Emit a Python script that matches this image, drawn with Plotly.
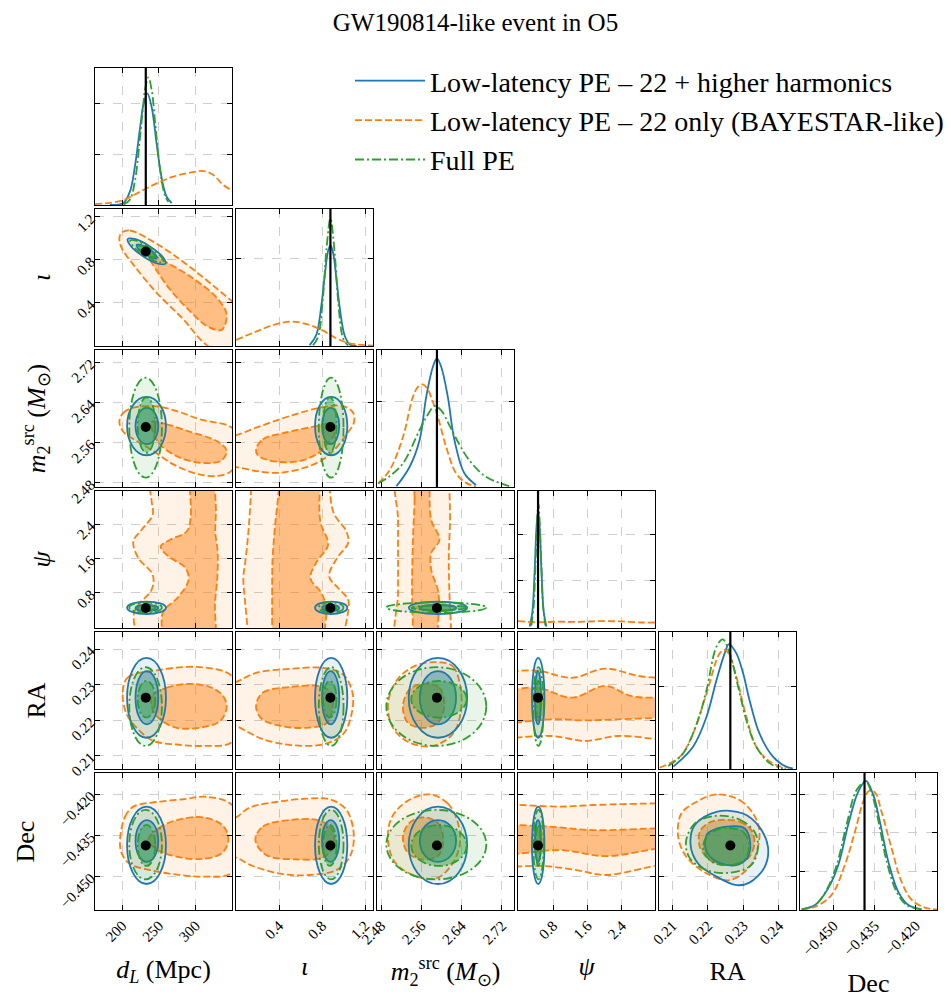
import plotly.graph_objects as go

W, H = 951, 1006
FONT = "Liberation Serif"

# ---------------- parameters / axes ----------------
PARAMS = ["dL", "iota", "m2", "psi", "RA", "Dec"]
LABELS = ["<i>d</i><sub><i>L</i></sub> (Mpc)", "<i>ι</i>",
          "<i>m</i><sub>2</sub><sup>src</sup> (<i>M</i><sub>⊙</sub>)", "<i>ψ</i>", "RA", "Dec"]
RANGES = [[162.8, 349.5], [0.0, 1.274], [2.472, 2.744], [-0.015, 3.17], [0.2062, 0.2448], [-0.4623, -0.4122]]
TICKVALS = [[200, 250, 300], [0.4, 0.8, 1.2], [2.48, 2.56, 2.64, 2.72], [0.8, 1.6, 2.4],
            [0.21, 0.22, 0.23, 0.24], [-0.450, -0.435, -0.420]]
TICKTEXT = [["200", "250", "300"], ["0.4", "0.8", "1.2"], ["2.48", "2.56", "2.64", "2.72"],
            ["0.8", "1.6", "2.4"], ["0.21", "0.22", "0.23", "0.24"],
            ["\u22120.450", "\u22120.435", "\u22120.420"]]
TRUTH = [232.0, 0.878, 2.591, 0.451, 0.2263, -0.4387]
DIAG_GRID = [[0.37, 0.742], [0.64], [0.623], [0.345, 0.686], [0.603], [0.28, 0.567, 0.844]]

SERIES = ["Low-latency PE – 22 + higher harmonics",
          "Low-latency PE – 22 only (BAYESTAR-like)",
          "Full PE"]

# ---------------- 1D marginals (height as fraction of panel) ----------------
HH_DL_X = [183.2, 201.4, 210.5, 217.3, 224.1, 228.7, 234.1, 240.0, 246.8, 251.4, 255.9, 260.4, 267.3]
HH_DL_Y = [0.0, 0.015, 0.10, 0.285, 0.56, 0.73, 0.815, 0.715, 0.446, 0.268, 0.139, 0.061, 0.0135]
FULL_DL_X = [201.4, 210.5, 217.3, 224.1, 228.7, 230.9, 235.5, 240.0, 244.5, 249.1, 253.6, 258.2, 262.7]
FULL_DL_Y = [0.003, 0.041, 0.178, 0.49, 0.74, 0.84, 0.932, 0.84, 0.617, 0.368, 0.178, 0.07, 0.023]
OR_DL_X = [162.8, 183.2, 201.4, 224.1, 246.8, 269.5, 292.2, 310.4, 324.0, 337.6, 349.5, 360.0]
OR_DL_Y = [0.007, 0.015, 0.036, 0.097, 0.158, 0.207, 0.236, 0.248, 0.219, 0.146, 0.105, 0.07]

HH_IOTA_X = [0.6848, 0.7471, 0.7938, 0.825, 0.8562, 0.878, 0.903, 0.934, 0.9652, 1.0119, 1.0586, 1.121]
HH_IOTA_Y = [0.006, 0.082, 0.296, 0.514, 0.693, 0.737, 0.68, 0.49, 0.277, 0.073, 0.011, 0.001]
FULL_IOTA_X = [0.716, 0.7627, 0.8094, 0.8406, 0.878, 0.9185, 0.9496, 0.9963, 1.043]
FULL_IOTA_Y = [0.005, 0.065, 0.36, 0.70, 0.932, 0.67, 0.33, 0.055, 0.004]
OR_IOTA_X = [0.0, 0.1864, 0.3733, 0.529, 0.6848, 0.8094, 0.934, 1.0586, 1.2144, 1.274]
OR_IOTA_Y = [0.044, 0.105, 0.16, 0.178, 0.153, 0.112, 0.056, 0.02, 0.005, 0.003]

HH_M2_X = [2.5105, 2.5369, 2.5566, 2.5698, 2.583, 2.5908, 2.5994, 2.6125, 2.6257, 2.6454, 2.6685]
HH_M2_Y = [0.005, 0.148, 0.343, 0.66, 0.878, 0.939, 0.878, 0.66, 0.343, 0.1, 0.015]
FULL_M2_X = [2.4744, 2.4974, 2.5237, 2.5566, 2.5731, 2.5862, 2.5994, 2.6158, 2.6356, 2.6553, 2.6882, 2.7343]
FULL_M2_Y = [0.027, 0.08, 0.173, 0.416, 0.53, 0.591, 0.56, 0.45, 0.31, 0.195, 0.075, 0.007]
OR_M2_X = [2.4744, 2.4974, 2.5237, 2.5434, 2.5533, 2.5632, 2.5731, 2.583, 2.5928, 2.6092, 2.629, 2.6487, 2.6685]
OR_M2_Y = [0.027, 0.124, 0.367, 0.66, 0.73, 0.749, 0.71, 0.62, 0.513, 0.294, 0.10, 0.03, 0.005]

HH_PSI_X = [0.257, 0.319, 0.374, 0.413, 0.451, 0.49, 0.529, 0.583, 0.645]
HH_PSI_Y = [0.011, 0.117, 0.431, 0.724, 0.861, 0.724, 0.431, 0.117, 0.011]
FULL_PSI_X = [0.296, 0.35, 0.397, 0.459, 0.521, 0.568, 0.622]
FULL_PSI_Y = [0.018, 0.16, 0.515, 0.91, 0.515, 0.16, 0.018]
OR_PSI_X = [-0.015, 0.4, 0.9, 1.4, 1.9, 2.4, 2.9, 3.17]
OR_PSI_Y = [0.05, 0.042, 0.046, 0.045, 0.05, 0.048, 0.04, 0.04]

HH_RA_X = [0.2102, 0.2158, 0.2196, 0.2224, 0.2247, 0.2259, 0.228, 0.2299, 0.2317, 0.2345, 0.2383, 0.242, 0.2439]
HH_RA_Y = [0.017, 0.163, 0.382, 0.65, 0.844, 0.912, 0.844, 0.698, 0.504, 0.26, 0.09, 0.017, 0.005]
FULL_RA_X = [0.2088, 0.213, 0.2172, 0.2196, 0.2224, 0.2242, 0.2261, 0.2285, 0.2308, 0.2336, 0.2374, 0.2411]
FULL_RA_Y = [0.022, 0.114, 0.358, 0.577, 0.893, 0.946, 0.844, 0.6, 0.358, 0.163, 0.041, 0.005]
OR_RA_X = [0.2064, 0.2121, 0.2158, 0.2196, 0.2233, 0.2247, 0.2261, 0.228, 0.2308, 0.2336, 0.2374, 0.242]
OR_RA_Y = [0.01, 0.09, 0.26, 0.552, 0.844, 0.869, 0.83, 0.674, 0.382, 0.163, 0.054, 0.005]

HH_DEC_X = [-0.4617, -0.4568, -0.452, -0.4483, -0.4447, -0.441, -0.4382, -0.4355, -0.4331, -0.43, -0.4264, -0.4227, -0.4178]
HH_DEC_Y = [0.005, 0.036, 0.158, 0.328, 0.62, 0.864, 0.942, 0.84, 0.645, 0.353, 0.134, 0.036, 0.005]
FULL_DEC_X = [-0.4617, -0.4568, -0.4526, -0.4489, -0.4453, -0.4416, -0.4383, -0.4361, -0.4337, -0.4306, -0.427, -0.4233, -0.4178]
FULL_DEC_Y = [0.005, 0.036, 0.146, 0.328, 0.62, 0.876, 0.937, 0.852, 0.657, 0.353, 0.134, 0.036, 0.004]
OR_DEC_X = [-0.4617, -0.4568, -0.4508, -0.4459, -0.4422, -0.4392, -0.4371, -0.4349, -0.4325, -0.4288, -0.4252, -0.4214, -0.4166, -0.4122]
OR_DEC_Y = [0.005, 0.024, 0.109, 0.328, 0.572, 0.79, 0.869, 0.859, 0.718, 0.45, 0.207, 0.073, 0.017, 0.004]

# ---------------- 2D credible-region extents (blue / green, axis-aligned panels) ----------------
HH_90_LO = [206.5, 0.735, 2.535, 0.31, 0.2150, -0.4528]
HH_90_HI = [259.5, 1.035, 2.651, 0.60, 0.2375, -0.4245]
HH_50_LO = [218.0, 0.80, 2.557, 0.38, 0.2188, -0.4447]
HH_50_HI = [249.0, 0.96, 2.629, 0.52, 0.2338, -0.4294]
FULL_90_LO = [209.5, 0.77, 2.4905, 0.34, 0.2127, -0.4511]
FULL_90_HI = [254.0, 1.00, 2.689, 0.58, 0.2349, -0.4257]
FULL_50_LO = [221.0, 0.81, 2.54, 0.40, 0.2207, -0.4462]
FULL_50_HI = [245.0, 0.935, 2.65, 0.51, 0.2310, -0.4312]

# tilted panels, outlines read directly
HH_DL_IOTA_90 = [(259.1, 0.766), (248.4, 0.7665), (228.7, 0.8333), (211.8, 0.928), (207.3, 0.9938),
                 (218.0, 0.9932), (237.6, 0.9263), (254.6, 0.8318)]
HH_DL_IOTA_50 = [(246.9, 0.8194), (241.1, 0.8188), (230.7, 0.8539), (221.8, 0.9044), (219.5, 0.9402),
                 (225.3, 0.9408), (235.6, 0.9057), (244.6, 0.8552)]
FULL_DL_IOTA_90 = [(256.5, 0.7791), (247.4, 0.7831), (230.2, 0.8438), (215.0, 0.9254), (210.8, 0.9805),
                   (219.9, 0.9765), (237.1, 0.9158), (252.3, 0.8342)]
FULL_DL_IOTA_50 = [(244.7, 0.8293), (239.9, 0.8296), (231.2, 0.8592), (223.7, 0.9011), (221.7, 0.9303),
                   (226.5, 0.93), (235.2, 0.8994), (242.7, 0.8586)]
HH_RA_DEC_90 = [(0.2224, -0.4264), (0.2299, -0.4270), (0.2344, -0.4318), (0.2369, -0.4392), (0.2360, -0.4465),
                (0.2317, -0.4523), (0.2280, -0.4532), (0.2224, -0.4501), (0.2172, -0.4453), (0.2151, -0.4386),
                (0.2163, -0.4312)]
HH_RA_DEC_50 = [(0.2252, -0.4318), (0.2303, -0.4324), (0.2319, -0.4379), (0.2310, -0.4434), (0.2280, -0.4459),
                (0.2224, -0.4446), (0.2194, -0.4404), (0.2196, -0.4349), (0.2205, -0.4337)]
FULL_RA_DEC_90 = [(0.2219, -0.4279), (0.2289, -0.4292), (0.2331, -0.4337), (0.2341, -0.4392), (0.2322, -0.4459),
                  (0.2261, -0.4487), (0.2196, -0.4477), (0.2149, -0.4434), (0.2138, -0.4373), (0.2163, -0.4306)]
FULL_RA_DEC_50 = [(0.2242, -0.4324), (0.2299, -0.4337), (0.2316, -0.4386), (0.2303, -0.4440), (0.2261, -0.4459),
                  (0.2210, -0.4446), (0.2186, -0.4398), (0.2200, -0.4349)]

# ---------------- orange (22-only) 2D outlines ----------------
OR_DL_IOTA_90 = [(199.1, 1.055), (210.5, 1.074), (246.8, 0.951), (292.2, 0.735), (349.5, 0.418), (392, 0.187),
                 (355.8, -0.121), (315, 0.008), (283.1, 0.248), (246.8, 0.495), (215, 0.757), (199.1, 0.911), (196, 1.003)]
OR_DL_IOTA_50 = [(235.5, 0.871), (253.6, 0.803), (292.2, 0.649), (328.6, 0.449), (342.2, 0.295), (335.4, 0.15),
                 (314.9, 0.187), (292.2, 0.325), (265, 0.526), (244.5, 0.726), (236.8, 0.818)]
OR_DL_M2_90 = [(196, 2.6016), (201.4, 2.6194), (215, 2.6294), (246.8, 2.632), (274.1, 2.6228), (305.9, 2.6062),
               (349.5, 2.5897), (362.6, 2.5566), (349.5, 2.505), (328.6, 2.4937), (301.3, 2.4984), (269.5, 2.5169),
               (242.3, 2.5434), (219.6, 2.5632), (201.4, 2.5817)]
OR_DL_M2_50 = [(240, 2.6016), (260.4, 2.5963), (292.2, 2.5817), (328.6, 2.5632), (342.2, 2.5447), (335.4, 2.5248),
               (310.4, 2.5195), (278.6, 2.5301), (253.6, 2.5533), (242.3, 2.5778)]
OR_IOTA_M2_90 = [(-0.25, 2.5434), (-0.1, 2.5745), (0.0, 2.5751), (0.1864, 2.5897), (0.4979, 2.6128), (0.8094, 2.6307),
                 (0.9963, 2.6327), (1.0898, 2.6195), (1.096, 2.5996), (1.0275, 2.5765), (0.8717, 2.5367),
                 (0.6848, 2.5136), (0.4044, 2.5003), (0.1864, 2.5037), (0.0, 2.5116), (-0.1, 2.512)]
OR_IOTA_M2_50 = [(0.1864, 2.5467), (0.2487, 2.5665), (0.4979, 2.5817), (0.7471, 2.593), (0.878, 2.5976),
                 (0.9185, 2.5798), (0.8468, 2.5566), (0.7471, 2.5367), (0.56, 2.5222), (0.311, 2.5248), (0.202, 2.5354)]
OR_DL_PSI_90 = [(237.5, 3.6), (237.7, 3.234), (240, 2.925), (241.4, 2.616), (226.4, 2.268), (215, 1.997),
                (221.8, 1.611), (241.4, 1.224), (240, 0.876), (224.1, 0.567), (215.9, 0.335), (217.3, -0.09),
                (217.5, -0.45), (400, -0.45), (400, 3.6)]
OR_DL_PSI_50 = [(292, 3.6), (292.2, 3.234), (293.1, 2.538), (287.7, 2.229), (265, 2.036), (252.3, 1.881),
                (262.7, 1.65), (285.4, 1.394), (290.4, 1.108), (275, 0.683), (255.9, 0.374), (253.6, -0.09),
                (253.5, -0.45), (327.7, -0.45), (327.7, -0.09), (326.3, 0.529), (329.5, 1.147), (329.9, 1.765),
                (326.7, 2.229), (327.6, 2.693), (326.3, 3.234), (326.3, 3.6)]
OR_IOTA_PSI_90 = [(0.14, 3.6), (0.14, 3.234), (0.118, 2.307), (0.087, 1.534), (0.068, 1.147), (0.081, 0.683),
                  (0.108, -0.09), (0.108, -0.45), (1.012, -0.45), (1.012, -0.09), (1.043, 0.374), (1.043, 0.645),
                  (0.95, 0.915), (0.866, 1.186), (0.94, 1.611), (1.043, 1.959), (1.027, 2.229), (0.909, 2.654),
                  (0.872, 3.234), (0.872, 3.6)]
OR_IOTA_PSI_50 = [(0.398, 3.6), (0.398, 3.234), (0.361, 2.307), (0.339, 1.534), (0.336, 0.76), (0.336, -0.09),
                  (0.336, -0.45), (0.825, -0.45), (0.825, -0.09), (0.84, 0.451), (0.794, 0.799), (0.691, 1.147),
                  (0.753, 1.534), (0.856, 1.92), (0.784, 2.461), (0.778, 3.234), (0.778, 3.6)]
OR_M2_PSI_90 = [(2.5138, 3.6), (2.5138, 2.5), (2.5138, 1.65), (2.5138, 0.8), (2.5138, -0.45), (2.619, -0.45),
                (2.619, -0.05), (2.6158, 0.799), (2.6145, 1.65), (2.6171, 2.5), (2.6158, 3.234), (2.6158, 3.6)]
OR_M2_PSI_50 = [(2.5467, 3.6), (2.5467, 3.0), (2.5434, 2.036), (2.5415, 0.877), (2.5434, -0.05), (2.5434, -0.45),
                (2.5928, -0.45), (2.5928, -0.05), (2.5941, 0.799), (2.5796, 1.34), (2.5796, 1.727), (2.5961, 2.036),
                (2.5796, 2.5), (2.5763, 3.234), (2.5763, 3.6)]
OR_DL_RA_90 = [(200.5, 0.2272), (206.9, 0.2319), (246.8, 0.2340), (305.9, 0.2349), (349.5, 0.2324), (364.9, 0.2234),
               (349.5, 0.2138), (310.4, 0.2127), (274.1, 0.2131), (242.3, 0.2141), (219.6, 0.2178), (206, 0.2216)]
OR_DL_RA_50 = [(240, 0.2267), (260.4, 0.2291), (292.2, 0.2302), (319.5, 0.2293), (337.6, 0.2267), (342.2, 0.2234),
               (333.1, 0.2197), (310.4, 0.2180), (274.1, 0.2178), (251.4, 0.2202), (241.4, 0.2230)]
OR_IOTA_RA_90 = [(-0.25, 0.2245), (-0.1, 0.2300), (0.0, 0.2307), (0.1864, 0.2333), (0.4979, 0.2344), (0.8094, 0.2347),
                 (0.9963, 0.2328), (1.0835, 0.2277), (1.0742, 0.2216), (0.9963, 0.2160), (0.8094, 0.2131),
                 (0.4979, 0.2130), (0.2487, 0.2146), (0.0929, 0.2169), (0.0, 0.2183), (-0.1, 0.2188)]
OR_IOTA_RA_50 = [(0.1864, 0.2239), (0.2487, 0.2277), (0.4979, 0.2293), (0.7783, 0.2295), (0.8873, 0.2277),
                 (0.8967, 0.2234), (0.8468, 0.2192), (0.6537, 0.2178), (0.3733, 0.2186), (0.2331, 0.2205)]
OR_M2_RA_90 = [(2.5892, 0.2363), (2.6221, 0.2352), (2.6366, 0.2301), (2.6386, 0.2225), (2.6221, 0.2160),
               (2.5826, 0.2127), (2.5366, 0.2136), (2.5037, 0.2178), (2.4938, 0.2244), (2.5103, 0.2310), (2.5464, 0.2352)]
OR_M2_RA_50 = [(2.5629, 0.2302), (2.5958, 0.2291), (2.6057, 0.2239), (2.5925, 0.2192), (2.5629, 0.2178),
               (2.5333, 0.2192), (2.5234, 0.2239), (2.5366, 0.2286)]
OR_PSI_RA_90 = [(-0.6, 0.2338), (-0.162, 0.2338), (0.459, 0.2339), (1.235, 0.2319), (2.012, 0.2345), (2.788, 0.2324),
                (3.331, 0.2319), (3.7, 0.2319), (3.7, 0.2145), (3.331, 0.2145), (2.322, 0.2155), (1.546, 0.2141),
                (0.77, 0.2155), (-0.162, 0.2150), (-0.6, 0.2150)]
OR_PSI_RA_50 = [(-0.6, 0.2286), (-0.162, 0.2286), (0.459, 0.2291), (1.235, 0.2263), (2.012, 0.2296), (2.633, 0.2267),
                (3.331, 0.2263), (3.7, 0.2263), (3.7, 0.2206), (3.331, 0.2206), (2.322, 0.2202), (1.546, 0.2199),
                (0.77, 0.2202), (-0.162, 0.2192), (-0.6, 0.2192)]
OR_DL_DEC_90 = [(196.9, -0.4367), (203.7, -0.4282), (215, -0.4245), (246.8, -0.4228), (283.1, -0.4218),
                (315, -0.4209), (349.5, -0.4239), (364.9, -0.4367), (349.5, -0.4487), (310.4, -0.4501),
                (269.5, -0.4492), (237.7, -0.4477), (210.5, -0.4455), (199.1, -0.4416)]
OR_DL_DEC_50 = [(235.5, -0.4367), (249.1, -0.4325), (269.5, -0.4298), (310.4, -0.4284), (337.6, -0.4316),
                (344.5, -0.4367), (335.4, -0.4416), (301.3, -0.4437), (265, -0.4422), (246.8, -0.4401)]
OR_IOTA_DEC_90 = [(-0.25, -0.4355), (-0.1, -0.4290), (0.0, -0.4284), (0.1241, -0.4249), (0.3733, -0.4228),
                  (0.6537, -0.4216), (0.8717, -0.4218), (1.0275, -0.4257), (1.096, -0.4349), (1.0586, -0.4428),
                  (0.934, -0.4477), (0.6848, -0.4495), (0.4356, -0.4492), (0.1553, -0.4462), (0.0, -0.4431),
                  (-0.1, -0.4425)]
OR_IOTA_DEC_50 = [(0.1802, -0.4367), (0.2487, -0.4318), (0.4979, -0.4294), (0.7783, -0.4296), (0.8967, -0.4331),
                  (0.9029, -0.4392), (0.8094, -0.4431), (0.5602, -0.4438), (0.2799, -0.4422)]
OR_M2_DEC_90 = [(2.576, -0.4200), (2.6123, -0.4233), (2.632, -0.4300), (2.6366, -0.4379), (2.6221, -0.4453),
                (2.5892, -0.4508), (2.5432, -0.4495), (2.5069, -0.4447), (2.4938, -0.4367), (2.5004, -0.4288),
                (2.53, -0.4227)]
OR_M2_DEC_50 = [(2.5629, -0.4284), (2.5925, -0.4304), (2.6037, -0.4367), (2.5925, -0.4426), (2.5596, -0.4438),
                (2.5333, -0.4414), (2.5234, -0.4357), (2.5353, -0.4306)]
OR_PSI_DEC_90 = [(-0.6, -0.4237), (-0.2085, -0.4237), (0.956, -0.4245), (1.732, -0.4239), (3.285, -0.4233),
                 (3.7, -0.4233), (3.7, -0.4459), (3.285, -0.4459), (2.043, -0.4495), (1.344, -0.4477),
                 (0.568, -0.4462), (-0.2085, -0.4465), (-0.6, -0.4465)]
OR_PSI_DEC_50 = [(-0.6, -0.4312), (-0.2085, -0.4312), (0.723, -0.4318), (1.732, -0.4331), (3.285, -0.4324),
                 (3.7, -0.4324), (3.7, -0.4398), (3.285, -0.4398), (2.043, -0.4426), (0.956, -0.4404),
                 (-0.2085, -0.4420), (-0.6, -0.4420)]
OR_RA_DEC_90 = [(0.2224, -0.4200), (0.2289, -0.4221), (0.2327, -0.4270), (0.2344, -0.4324), (0.2341, -0.4392),
                (0.2317, -0.4465), (0.2261, -0.4514), (0.2196, -0.4489), (0.2139, -0.4428), (0.2116, -0.4355),
                (0.2125, -0.4270), (0.2168, -0.4227)]
OR_RA_DEC_50 = [(0.2233, -0.4294), (0.2289, -0.4300), (0.2322, -0.4331), (0.2331, -0.4379), (0.2313, -0.4434),
                (0.2261, -0.4459), (0.2205, -0.4440), (0.2177, -0.4392), (0.2177, -0.4337), (0.2200, -0.4306)]

# ---------------- assemble lookup tables ----------------
MARG = {
    "hh": [(HH_DL_X, HH_DL_Y), (HH_IOTA_X, HH_IOTA_Y), (HH_M2_X, HH_M2_Y), (HH_PSI_X, HH_PSI_Y),
           (HH_RA_X, HH_RA_Y), (HH_DEC_X, HH_DEC_Y)],
    "or": [(OR_DL_X, OR_DL_Y), (OR_IOTA_X, OR_IOTA_Y), (OR_M2_X, OR_M2_Y), (OR_PSI_X, OR_PSI_Y),
           (OR_RA_X, OR_RA_Y), (OR_DEC_X, OR_DEC_Y)],
    "full": [(FULL_DL_X, FULL_DL_Y), (FULL_IOTA_X, FULL_IOTA_Y), (FULL_M2_X, FULL_M2_Y), (FULL_PSI_X, FULL_PSI_Y),
             (FULL_RA_X, FULL_RA_Y), (FULL_DEC_X, FULL_DEC_Y)],
}
OR2D = {
    (0, 1): (OR_DL_IOTA_90, OR_DL_IOTA_50), (0, 2): (OR_DL_M2_90, OR_DL_M2_50),
    (1, 2): (OR_IOTA_M2_90, OR_IOTA_M2_50), (0, 3): (OR_DL_PSI_90, OR_DL_PSI_50),
    (1, 3): (OR_IOTA_PSI_90, OR_IOTA_PSI_50), (2, 3): (OR_M2_PSI_90, OR_M2_PSI_50),
    (0, 4): (OR_DL_RA_90, OR_DL_RA_50), (1, 4): (OR_IOTA_RA_90, OR_IOTA_RA_50),
    (2, 4): (OR_M2_RA_90, OR_M2_RA_50), (3, 4): (OR_PSI_RA_90, OR_PSI_RA_50),
    (0, 5): (OR_DL_DEC_90, OR_DL_DEC_50), (1, 5): (OR_IOTA_DEC_90, OR_IOTA_DEC_50),
    (2, 5): (OR_M2_DEC_90, OR_M2_DEC_50), (3, 5): (OR_PSI_DEC_90, OR_PSI_DEC_50),
    (4, 5): (OR_RA_DEC_90, OR_RA_DEC_50),
}
EXPLICIT = {
    ("hh", 0, 1): (HH_DL_IOTA_90, HH_DL_IOTA_50), ("full", 0, 1): (FULL_DL_IOTA_90, FULL_DL_IOTA_50),
    ("hh", 4, 5): (HH_RA_DEC_90, HH_RA_DEC_50), ("full", 4, 5): (FULL_RA_DEC_90, FULL_RA_DEC_50),
}
EXTENTS = {
    "hh": (HH_90_LO, HH_90_HI, HH_50_LO, HH_50_HI),
    "full": (FULL_90_LO, FULL_90_HI, FULL_50_LO, FULL_50_HI),
}

# ---------------- styles ----------------
STYLE = {
    "hh": dict(color="#1f77b4", rgb="31,119,180", dash="solid"),
    "or": dict(color="#ff7f0e", rgb="255,127,14", dash="7px,3px"),
    "full": dict(color="#2ca02c", rgb="44,160,44", dash="9px,3px,2px,3px"),
}
LW = 1.8
A_OUT, A_IN = 0.1, 0.4


def ax_ref(k):
    return ("x" if k == 1 else f"x{k}"), ("y" if k == 1 else f"y{k}")


def outline(pts):
    xs = [p[0] for p in pts] + [pts[0][0]]
    ys = [p[1] for p in pts] + [pts[0][1]]
    return xs, ys


def contour_trace(pts, key, alpha, xr, yr):
    st = STYLE[key]
    xs, ys = outline(pts)
    return go.Scatter(x=xs, y=ys, mode="lines", xaxis=xr, yaxis=yr, fill="toself",
                      fillcolor=f"rgba({st['rgb']},{alpha})",
                      line=dict(color=st["color"], width=LW, dash=st["dash"], shape="spline", smoothing=1.0),
                      hoverinfo="skip", showlegend=False)


def ellipse_shape(key, alpha, xr, yr, xlo, xhi, ylo, yhi):
    st = STYLE[key]
    return dict(type="circle", xref=xr, yref=yr, x0=xlo, x1=xhi, y0=ylo, y1=yhi, layer="above",
                fillcolor=f"rgba({st['rgb']},{alpha})",
                line=dict(color=st["color"], width=LW, dash=st["dash"]))


fig = go.Figure()
layout = {}
shapes = []
dots = []
k = 0
for r in range(6):
    for c in range(r + 1):
        k += 1
        xr, yr = ax_ref(k)
        x0 = 95 + 141 * c
        y0 = 68 + 141 * r
        xdom = [x0 / W, (x0 + 137) / W]
        ydom = [1 - (y0 + 137) / H, 1 - y0 / H]
        common = dict(ticks="inside", ticklen=5, tickwidth=1, tickcolor="black", showline=True,
                      linecolor="black", linewidth=1.3, mirror="allticks", showgrid=True,
                      gridcolor="#cfcfcf", griddash="dash", gridwidth=1, zeroline=False, automargin=False,
                      tickangle=-45, tickfont=dict(family=FONT, size=15, color="black"))
        xa = dict(common, domain=xdom, anchor=yr, range=RANGES[c], tickvals=TICKVALS[c],
                  ticktext=TICKTEXT[c], showticklabels=(r == 5))
        if r == 5:
            xa["title"] = dict(text=LABELS[c], font=dict(family=FONT, size=26, color="black"))
        if r == c:
            ya = dict(common, domain=ydom, anchor=xr, range=[0, 1], tickvals=DIAG_GRID[r],
                      showticklabels=False)
        else:
            ya = dict(common, domain=ydom, anchor=xr, range=RANGES[r], tickvals=TICKVALS[r],
                      ticktext=TICKTEXT[r], showticklabels=(c == 0))
            if c == 0:
                ya["title"] = dict(text=LABELS[r], font=dict(family=FONT, size=26, color="black"))
        layout["xaxis" if k == 1 else f"xaxis{k}"] = xa
        layout["yaxis" if k == 1 else f"yaxis{k}"] = ya

        if r == c:
            for key in ["hh", "or", "full"]:
                mx, my = MARG[key][c]
                st = STYLE[key]
                fig.add_trace(go.Scatter(x=mx, y=my, mode="lines", xaxis=xr, yaxis=yr,
                                         line=dict(color=st["color"], width=LW, dash=st["dash"],
                                                   shape="spline", smoothing=1.0),
                                         hoverinfo="skip", showlegend=False))
            fig.add_trace(go.Scatter(x=[TRUTH[c], TRUTH[c]], y=[0, 1], mode="lines", xaxis=xr, yaxis=yr,
                                     line=dict(color="black", width=2.2), hoverinfo="skip", showlegend=False))
        else:
            o90, o50 = OR2D[(c, r)]
            fig.add_trace(contour_trace(o90, "or", A_OUT, xr, yr))
            fig.add_trace(contour_trace(o50, "or", 0.45, xr, yr))
            for key in ["hh", "full"]:
                if (key, c, r) in EXPLICIT:
                    p90, p50 = EXPLICIT[(key, c, r)]
                    fig.add_trace(contour_trace(p90, key, A_OUT, xr, yr))
                    fig.add_trace(contour_trace(p50, key, A_IN, xr, yr))
                else:
                    lo9, hi9, lo5, hi5 = EXTENTS[key]
                    shapes.append(ellipse_shape(key, A_OUT, xr, yr, lo9[c], hi9[c], lo9[r], hi9[r]))
                    shapes.append(ellipse_shape(key, A_IN, xr, yr, lo5[c], hi5[c], lo5[r], hi5[r]))
            dots.append(dict(type="circle", xref=xr, yref=yr, xsizemode="pixel", ysizemode="pixel",
                             xanchor=TRUTH[c], yanchor=TRUTH[r], x0=-5, x1=5, y0=-5, y1=5,
                             layer="above", fillcolor="black", line=dict(color="black", width=0)))

# legend entries
for i, key in enumerate(["hh", "or", "full"]):
    st = STYLE[key]
    fig.add_trace(go.Scatter(x=[None], y=[None], mode="lines", name=SERIES[i], legendgroup=key,
                             line=dict(color=st["color"], width=LW, dash=st["dash"])))

fig.update_layout(**layout)
fig.update_layout(
    shapes=shapes + dots,
    width=W, height=H, margin=dict(l=0, r=0, t=0, b=0),
    paper_bgcolor="white", plot_bgcolor="white",
    title=dict(text="GW190814-like event in O5", x=0.5, xanchor="center", y=1 - 22 / H, yanchor="middle",
               font=dict(family=FONT, size=25, color="black")),
    legend=dict(x=350 / W, y=1 - 56 / H, xanchor="left", yanchor="top", tracegroupgap=0, itemwidth=70,
                font=dict(family=FONT, size=28, color="black"), bgcolor="rgba(0,0,0,0)"),
    font=dict(family=FONT, color="black"),
)
fig.write_html("out.html")
